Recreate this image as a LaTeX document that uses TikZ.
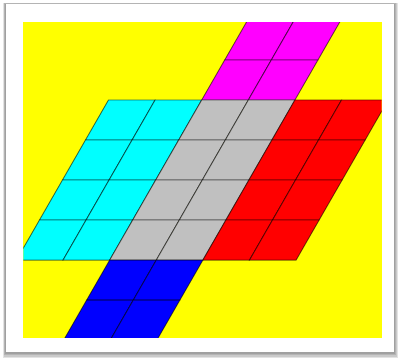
\documentclass[tikz,border=0pt]{standalone}
\usepackage{tikz}
\definecolor{silver}{RGB}{192,192,192}
\definecolor{yellowbg}{RGB}{255,255,0}
\definecolor{magentacell}{RGB}{255,0,255}
\definecolor{cyancell}{RGB}{0,255,255}
\definecolor{redcell}{RGB}{255,0,0}
\definecolor{bluecell}{RGB}{0,0,255}
\tikzset{cell/.style={draw=black, draw opacity=0.55, line width=0.65pt, line join=miter},
  paper/.style={fill=white},
  shade/.style={fill=black, opacity=0.11},
}

\begin{document}
\begin{tikzpicture}[x=0.025cm, y=-0.025cm]
    \useasboundingbox (0,0) rectangle (400,360);
    % shadowed white frame
    \foreach \k in {1,...,4}
        \fill[shade] (6-\k*0.8,4-\k*0.3) rectangle (394+\k*1,352+\k*1.5);
    \fill[paper] (6,4) rectangle (394,352);
    \fill[yellowbg] (23.3,22.3) rectangle (381.7,337.5);
    \begin{scope}
        \clip (23.3,22.3) rectangle (381.7,337.5);
        % skewed grid: one unit = one rhombus cell
        \begin{scope}[shift={(201.7,100)}, x={(1.165cm,0cm)}, y={(-0.575cm,-1cm)}]
            \foreach \c/\ia/\ja/\jb in {magentacell/0/-2/-1, cyancell/-2/0/3, silver/0/0/3, redcell/2/0/3, bluecell/0/4/5}
                \foreach \j in {\ja,...,\jb}
                    \foreach \di in {0,1}
                        \filldraw[cell, fill=\c] (\ia+\di,\j) -- ++(1,0) -- ++(0,1) -- ++(-1,0) -- cycle;
        \end{scope}
    \end{scope}
\end{tikzpicture}
\end{document}
